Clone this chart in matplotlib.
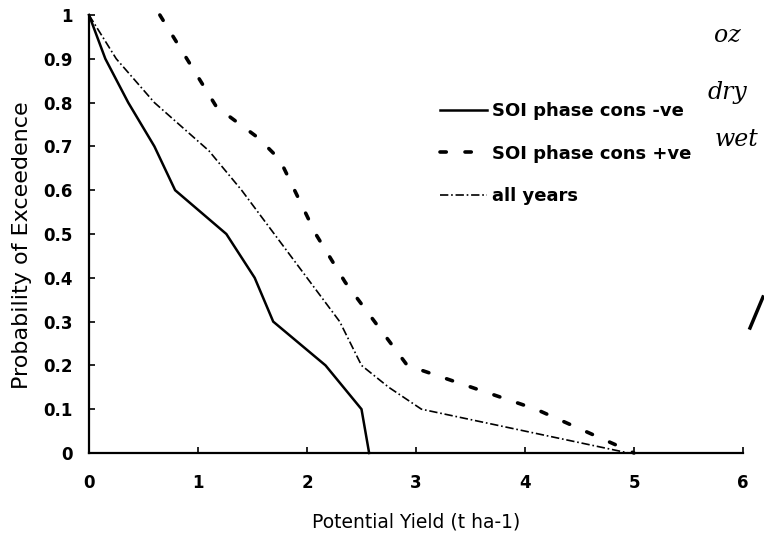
import matplotlib
matplotlib.use("Agg")
import matplotlib.pyplot as plt
from matplotlib.lines import Line2D

plt.rcParams["font.family"] = ["DejaVu Sans"]
plt.rcParams["lines.scale_dashes"] = False

# Probability of exceedence curves for potential yield
neg_yield = [0.0, 0.15, 0.36, 0.60, 0.79, 1.26, 1.52, 1.69, 2.17, 2.50, 2.57]
neg_prob = [1.0, 0.9, 0.8, 0.7, 0.6, 0.5, 0.4, 0.3, 0.2, 0.1, 0.0]

pos_yield = [0.65, 1.17, 1.55, 1.75, 2.08, 2.35, 2.92, 4.10, 5.00]
pos_prob = [1.0, 0.79, 0.72, 0.67, 0.50, 0.39, 0.20, 0.10, 0.0]

all_yield = [0.0, 0.25, 0.60, 1.10, 1.40, 2.00, 2.30, 2.50, 2.75, 3.05, 4.95]
all_prob = [1.0, 0.9, 0.8, 0.69, 0.6, 0.4, 0.3, 0.2, 0.15, 0.1, 0.0]

series_labels = ["SOI phase cons -ve", "SOI phase cons +ve", "all years"]
x_ticks = [0, 1, 2, 3, 4, 5, 6]
y_ticks = [0, 0.1, 0.2, 0.3, 0.4, 0.5, 0.6, 0.7, 0.8, 0.9, 1]
y_tick_labels = ["0", "0.1", "0.2", "0.3", "0.4", "0.5", "0.6", "0.7", "0.8", "0.9", "1"]

fig = plt.figure(figsize=(7.64, 5.38), dpi=100)
ax = fig.add_axes([89 / 764, 85 / 538, 654 / 764, 438 / 538])

ax.plot(neg_yield, neg_prob, color="black", lw=1.8, solid_joinstyle="miter",
        label=series_labels[0], clip_on=False)
ax.plot(pos_yield, pos_prob, color="black", lw=2.6,
        linestyle=(0, (4.5, 13.5)), dash_capstyle="round",
        label=series_labels[1], clip_on=False)
ax.plot(all_yield, all_prob, color="black", lw=1.2,
        linestyle=(0, (6.0, 2.0, 1.2, 2.0)),
        label=series_labels[2], clip_on=False)

ax.set_xlim(0, 6)
ax.set_ylim(0, 1)
ax.set_xticks(x_ticks)
ax.set_xticklabels([str(t) for t in x_ticks])
ax.set_yticks(y_ticks)
ax.set_yticklabels(y_tick_labels)

for side in ("top", "right"):
    ax.spines[side].set_visible(False)
for side in ("left", "bottom"):
    ax.spines[side].set_linewidth(1.6)

ax.tick_params(axis="x", direction="in", length=4, width=1.2, pad=15,
               labelsize=12)
ax.tick_params(axis="y", direction="in", length=4, width=1.2, pad=12,
               labelsize=12)
for lab in ax.get_xticklabels() + ax.get_yticklabels():
    lab.set_fontweight("bold")

ax.set_xlabel("Potential Yield (t ha-1)", fontsize=13.5)
ax.set_ylabel("Probability of Exceedence", fontsize=16)
ax.xaxis.set_label_coords(0.5, -0.135)
ax.yaxis.set_label_coords(-0.087, 0.475)

leg = ax.legend(loc="upper left", bbox_to_anchor=(0.537, 0.801),
                frameon=False, borderpad=0, borderaxespad=0,
                handlelength=2.6, handletextpad=0.25, labelspacing=1.35,
                prop={"size": 13, "weight": "bold"})

# margin notes
note_kw = dict(family="DejaVu Serif", style="italic", fontsize=17,
               ha="center", va="center", color="black")
fig.text(727 / 764, 1 - 36 / 538, "oz", **note_kw)
fig.text(727 / 764, 1 - 92 / 538, "dry", **note_kw)
fig.text(737 / 764, 1 - 140 / 538, "wet", **note_kw)
fig.add_artist(Line2D([750 / 764, 763 / 764], [1 - 328 / 538, 1 - 297 / 538],
                      transform=fig.transFigure, color="black", lw=2.5))

fig.savefig("out.png", dpi=100)
